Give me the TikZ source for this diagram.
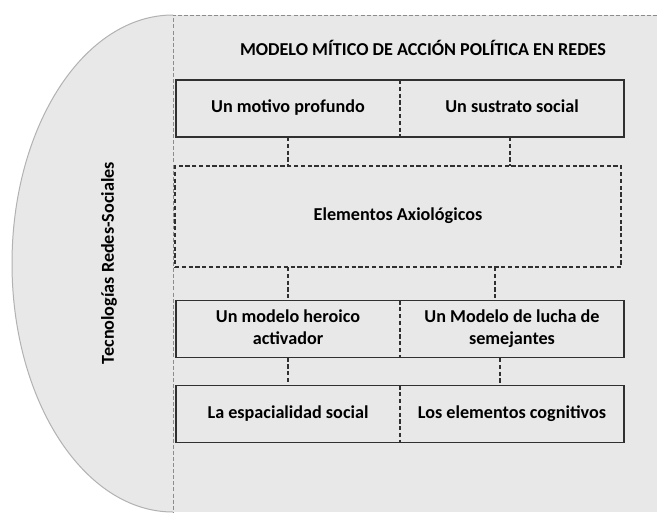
\documentclass[tikz,border=0pt]{standalone}
\usepackage{fontspec}
\setmainfont{Carlito}
\usetikzlibrary{positioning}
\definecolor{fondo}{HTML}{E8E8E8}
\definecolor{arco}{HTML}{B2B2B2}
\definecolor{borde}{HTML}{303030}
\definecolor{marco}{HTML}{8C8C8C}
\tikzset{
  caja/.style={inner sep=0pt, outer sep=0pt, align=center, minimum width=6.72cm, minimum height=1.72cm},
  contorno/.style={draw=borde, line width=0.045cm},
  divisor/.style={draw=borde, line width=0.045cm, dash pattern=on 3.6pt off 2.2pt},
  conector/.style={draw=borde, line width=0.045cm, dash pattern=on 3.6pt off 2.2pt},
  marcodash/.style={draw=marco, line width=0.025cm, dash pattern=on 3.4pt off 1.8pt}
}
\begin{document}
\begin{tikzpicture}[x=0.03cm, y=0.03cm, font=\fontsize{15.5}{18.5}\selectfont\bfseries]
            \useasboundingbox (0,0) rectangle (657,-512);%

            % Drawing background half ellipse and panel
            \fill [white] (0,0) rectangle (657,-512);%
            \draw [arco, fill=fondo, line width=0.03cm] (173,-15) arc (90:270:161 and 248.5);%
            \fill [fondo] (173,-15) rectangle (657,-512);%
            \draw [marcodash] (657,-15) -- (173,-15) -- (173,-512);%

            % Side label
            \node (tecno) [rotate=90] at (109,-263) {Tecnologías Redes-Sociales};%

            % Title
            \node (titulo) at (423,-48) {MODELO MÍTICO DE ACCIÓN POLÍTICA EN REDES};%

            % Row 1
            \node (motivo) [caja, minimum height=1.71cm] at (288,-108.5) {\strut Un motivo profundo};%
            \node (sustrato) [caja, minimum height=1.71cm, right=0pt of motivo] {\strut Un sustrato social};%
            \draw [contorno] (motivo.north west) rectangle (sustrato.south east);%
            \draw [divisor] (motivo.north east) -- (motivo.south east);%

            % Drawing dashed box
            \node (axio) [caja, conector, minimum width=13.38cm, minimum height=3.03cm] at (398,-216.5) {\strut Elementos Axiológicos};%

            % Row 3
            \node (heroico) [caja] at (288,-329) {\strut Un modelo heroico\\\strut activador};%
            \node (lucha) [caja, right=0pt of heroico] {\strut Un Modelo de lucha de\\\strut semejantes};%
            \draw [contorno] (heroico.north west) rectangle (lucha.south east);%
            \draw [divisor] (heroico.north east) -- (heroico.south east);%

            % Row 4
            \node (espacial) [caja] at (288,-414) {\strut La espacialidad social};%
            \node (cognitivo) [caja, right=0pt of espacial] {\strut Los elementos cognitivos};%
            \draw [contorno] (espacial.north west) rectangle (cognitivo.south east);%
            \draw [divisor] (espacial.north east) -- (espacial.south east);%

            % Drawing connectors
            \coordinate (c1) at (510,-137);%
            \coordinate (c2) at (495,-267);%
            \coordinate (c3) at (500,-358);%
            \draw [conector] (motivo.south) -- (motivo.south |- axio.north);%
            \draw [conector] (c1) -- (c1 |- axio.north);%
            \draw [conector] (heroico.north |- axio.south) -- (heroico.north);%
            \draw [conector] (c2) -- (c2 |- lucha.north);%
            \draw [conector] (heroico.south) -- (heroico.south |- espacial.north);%
            \draw [conector] (c3) -- (c3 |- cognitivo.north);%
\end{tikzpicture}
\end{document}
